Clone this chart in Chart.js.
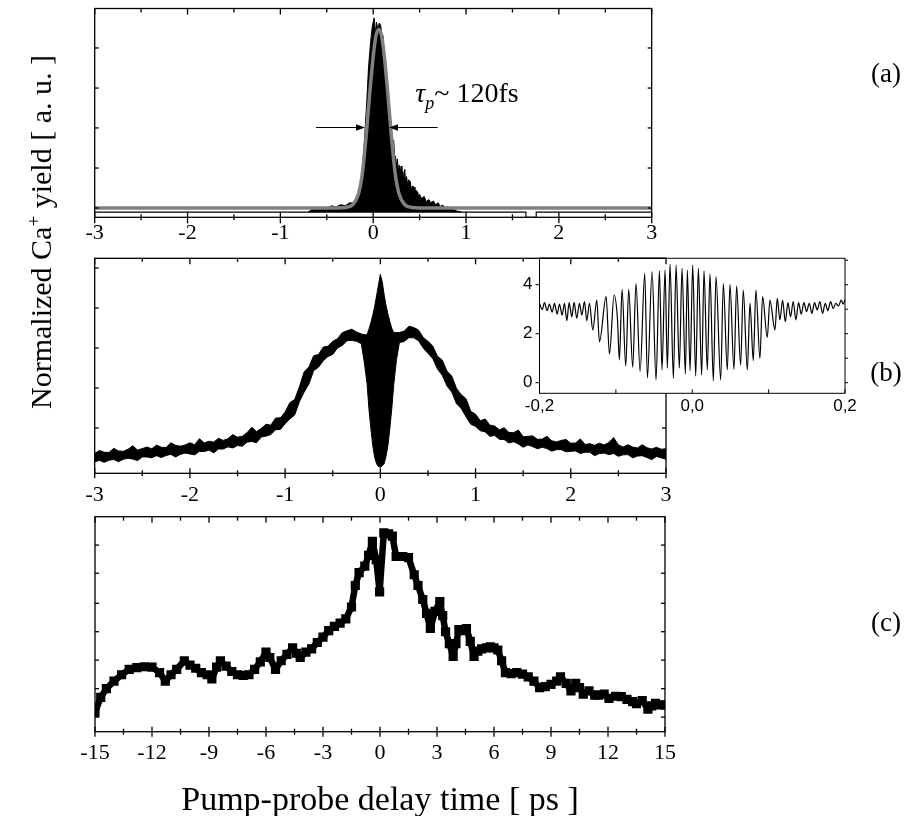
<!DOCTYPE html>
<html>
<head>
<meta charset="utf-8">
<title>Normalized Ca+ yield vs pump-probe delay</title>
<script src="https://cdn.jsdelivr.net/npm/chart.js@4.4.1/dist/chart.umd.min.js"></script>
<style>
  html, body { margin: 0; padding: 0; background: #fff; }
  #fig { position: relative; width: 907px; height: 816px; overflow: hidden; background: #fff; }
  #fig canvas { position: absolute; left: 0; top: 0; }
  .t { position: absolute; font-family: "Liberation Serif", "Times New Roman", serif; color: #000;
       white-space: nowrap; line-height: 1; transform: translate(-50%, -50%); }
  .t sup, .t sub { line-height: 0; }
</style>
</head>
<body>
<div id="fig">
  <canvas id="cA" width="907" height="816"></canvas>
  <canvas id="cB" width="907" height="816"></canvas>
  <canvas id="cC" width="907" height="816"></canvas>
  <canvas id="cI" width="907" height="816"></canvas>
  <div class="t" style="left:886px;top:73px;font-size:27px">(a)</div>
  <div class="t" style="left:886px;top:372px;font-size:27px">(b)</div>
  <div class="t" style="left:886px;top:622px;font-size:27px">(c)</div>
  <div class="t" style="left:467px;top:93px;font-size:28px"><i>τ</i><sub style="font-size:18px"><i>p</i></sub>~ 120fs</div>
  <div class="t" style="left:41px;top:232px;font-size:30px;transform:translate(-50%,-50%) rotate(-90deg)">Normalized Ca<sup style="font-size:19px">+</sup> yield [ a. u. ]</div>
  <div class="t" style="left:380px;top:799px;font-size:34px">Pump-probe delay time [ ps ]</div>
</div>
<script>
// ---------- panel (a): autocorrelation trace with Gaussian fit ----------
const aTicksX = [-3, -2, -1, 0, 1, 2, 3];
const aMinorX = [-2.5, -1.5, -0.5, 0.5, 1.5, 2.5];
const aTickLabels = ['-3', '-2', '-1', '0', '1', '2', '3'];
const aTicksY = [0.0445, 0.236, 0.428, 0.619, 0.811];
const aBaseLevel = 0.025;
const aTraceX = [-0.70,-0.65,-0.60,-0.55,-0.50,-0.45,-0.40,-0.35,-0.30,-0.25,-0.20,
  -0.17,-0.14,-0.12,-0.10,-0.09,-0.07,-0.05,-0.03,-0.01,
  0.01,0.025,0.035,0.05,0.065,0.08,0.095,0.105,
  0.12,0.14,0.16,0.18,
  0.20,0.21,0.22,0.23,0.24,0.25,0.26,0.27,0.28,0.29,
  0.30,0.31,0.32,0.33,0.34,0.35,0.36,0.37,0.38,
  0.40,0.41,0.42,0.44,0.45,0.46,0.48,0.49,0.50,
  0.52,0.55,0.57,0.60,0.62,0.65,0.67,0.70,0.72,0.75,
  0.78,0.80,0.85,0.90,0.95];
const aTraceTop = [0.025,0.040,0.036,0.046,0.042,0.055,0.050,0.060,0.056,0.070,0.066,
  0.085,0.15,0.21,0.33,0.40,0.55,0.72,0.83,0.915,
  0.955,0.88,0.935,0.90,0.93,0.92,0.87,0.84,
  0.72,0.62,0.55,0.47,
  0.40,0.34,0.37,0.30,0.29,0.25,0.28,0.22,0.25,0.20,
  0.245,0.19,0.22,0.17,0.23,0.16,0.195,0.15,0.18,
  0.17,0.13,0.15,0.145,0.11,0.13,0.12,0.095,0.11,
  0.09,0.10,0.075,0.085,0.07,0.078,0.06,0.07,0.052,0.058,
  0.045,0.05,0.04,0.03,0.025];
const aBaseX = [-3, 1.645, 1.646, 1.755, 1.756, 3];
const aBaseY = [0.025, 0.025, 0, 0, 0.025, 0.025];
const aFitX = [-3.0,-0.40,-0.30,-0.22,-0.16,-0.12,-0.08,-0.04,0.00,0.03,0.06,0.09,0.12,0.16,0.20,0.24,0.28,0.34,0.42,0.50,3.0];
const aFitY = [0.045,0.045,0.047,0.06,0.11,0.20,0.37,0.58,0.77,0.87,0.90,0.87,0.77,0.58,0.37,0.20,0.11,0.06,0.047,0.045,0.045];
const aArrowY = 0.43;
const aArrowLeft = [-0.616, -0.088];   // tail, tip
const aArrowRight = [0.694, 0.170];    // tail, tip

// ---------- panel (b): Ca+ yield, -3..3 ps (noise band: lower / upper edge) ----------
const bTicksY = [0.211, 0.397, 0.583, 0.769, 0.955];
const bX = [-3.00,-2.95,-2.90,-2.85,-2.80,-2.75,-2.70,-2.65,-2.60,-2.55,
  -2.50,-2.45,-2.40,-2.35,-2.30,-2.25,-2.20,-2.15,-2.10,-2.05,
  -2.00,-1.95,-1.90,-1.85,-1.80,-1.75,-1.70,-1.65,-1.60,-1.55,
  -1.50,-1.45,-1.40,-1.35,-1.30,-1.25,-1.20,-1.15,-1.10,-1.05,
  -1.00,-0.95,-0.90,-0.85,-0.80,-0.75,-0.70,-0.65,-0.60,-0.55,
  -0.50,-0.45,-0.40,-0.35,-0.30,-0.25,-0.20,
  -0.17,-0.14,-0.12,-0.10,-0.08,-0.06,-0.04,-0.02,0.00,0.02,0.04,0.06,0.08,0.10,0.12,0.14,0.17,
  0.20,0.25,0.30,0.35,0.40,0.45,0.50,0.55,0.60,0.65,
  0.70,0.75,0.80,0.85,0.90,0.95,1.00,1.05,1.10,1.15,
  1.20,1.25,1.30,1.35,1.40,1.45,1.50,1.55,1.60,1.65,
  1.70,1.75,1.80,1.85,1.90,1.95,2.00,2.05,2.10,2.15,
  2.20,2.25,2.30,2.35,2.40,2.45,2.50,2.55,2.60,2.65,
  2.70,2.75,2.80,2.85,2.90,2.95,3.00];
const bLow = [0.054,0.060,0.051,0.061,0.064,0.054,0.065,0.070,0.066,0.059,
  0.076,0.076,0.072,0.082,0.073,0.083,0.088,0.076,0.088,0.094,
  0.090,0.086,0.102,0.101,0.108,0.095,0.113,0.113,0.123,0.118,
  0.129,0.126,0.145,0.148,0.142,0.169,0.173,0.180,0.203,0.204,
  0.231,0.253,0.271,0.333,0.378,0.416,0.478,0.493,0.523,0.543,
  0.553,0.583,0.595,0.617,0.618,0.614,0.603,
  0.52,0.42,0.30,0.21,0.13,0.075,0.045,0.032,0.028,0.035,0.045,0.08,0.13,0.21,0.30,0.41,0.53,
  0.608,0.613,0.631,0.630,0.617,0.583,0.558,0.534,0.485,0.456,
  0.406,0.378,0.323,0.301,0.263,0.228,0.218,0.198,0.193,0.172,
  0.176,0.158,0.157,0.141,0.147,0.136,0.121,0.132,0.124,0.114,
  0.121,0.115,0.103,0.110,0.110,0.100,0.102,0.104,0.092,0.098,
  0.098,0.082,0.092,0.094,0.087,0.092,0.079,0.086,0.087,0.072,
  0.080,0.082,0.073,0.064,0.078,0.072,0.065];
const bHigh = [0.092,0.106,0.098,0.097,0.116,0.104,0.102,0.112,0.128,0.108,
  0.115,0.122,0.114,0.131,0.121,0.120,0.142,0.130,0.126,0.132,
  0.142,0.133,0.161,0.141,0.149,0.145,0.163,0.153,0.161,0.180,
  0.168,0.172,0.189,0.214,0.194,0.209,0.228,0.224,0.257,0.258,
  0.285,0.329,0.343,0.402,0.472,0.495,0.547,0.552,0.587,0.591,
  0.614,0.626,0.654,0.663,0.670,0.657,0.648,
  0.645,0.645,0.67,0.70,0.735,0.775,0.825,0.875,0.925,0.89,0.83,0.78,0.74,0.705,0.675,0.655,0.655,
  0.655,0.661,0.684,0.678,0.667,0.632,0.614,0.592,0.544,0.527,
  0.475,0.452,0.395,0.365,0.347,0.288,0.275,0.244,0.253,0.224,
  0.220,0.202,0.212,0.190,0.189,0.201,0.170,0.172,0.174,0.158,
  0.159,0.172,0.151,0.146,0.153,0.157,0.140,0.141,0.160,0.134,
  0.138,0.130,0.140,0.132,0.143,0.166,0.132,0.122,0.133,0.122,
  0.118,0.133,0.119,0.113,0.121,0.112,0.114];

// ---------- inset of (b): fringes, -0.2..0.2 ps ----------
const iTicksX = [-0.2, -0.1, 0, 0.1, 0.2];
const iLabelX = [-0.2, 0, 0.2];
const iLabelXText = ['-0,2', '0,0', '0,2'];
const iLabelY = [0, 2, 4];
const iTicksYRight = [0, 1, 2, 3, 4, 5];
const iX = [-0.200,-0.1965,-0.1935,-0.190,-0.187,-0.1834,-0.1804,-0.1769,-0.1738,-0.1704,
  -0.1673,-0.1642,-0.1612,-0.1577,-0.1547,-0.1512,-0.1477,-0.1446,-0.1411,-0.1381,
  -0.1346,-0.1302,-0.125,-0.1215,-0.1128,-0.1084,-0.1023,-0.098,-0.0954,-0.0919,
  -0.0871,-0.0832,-0.078,-0.0736,-0.0683,-0.0622,-0.0587,-0.0526,-0.0474,-0.043,
  -0.0396,-0.0356,-0.0326,-0.0291,-0.0247,-0.0212,-0.0169,-0.0134,-0.0090,-0.0064,
  -0.0029,0.0006,0.0045,0.008,0.0123,0.0154,0.0197,0.0232,0.0276,0.0311,
  0.0372,0.0407,0.0459,0.0494,0.0546,0.0581,0.0633,0.0668,0.0721,0.0756,
  0.0799,0.0834,0.0886,0.0921,0.0982,0.1017,0.1083,0.1113,0.1148,0.1183,
  0.1218,0.1253,0.1287,0.1322,0.1357,0.1392,0.1427,0.1462,0.1497,0.1532,
  0.1566,0.1601,0.1636,0.1671,0.1706,0.1741,0.1776,0.1811,0.1846,0.1880,
  0.1915,0.1950,0.1976,0.200];
const iY = [3.24,2.99,3.27,2.94,3.21,2.88,3.24,2.80,3.21,2.76,
  3.24,2.53,3.27,2.69,3.28,2.63,3.24,2.76,3.31,2.53,
  3.24,2.15,3.37,1.67,3.51,1.17,3.58,2.63,0.93,3.81,
  0.68,3.81,0.63,4.05,0.45,4.46,0.20,4.53,0.11,4.57,
  0.52,4.60,0.59,4.84,0.18,4.80,0.59,4.67,0.35,4.60,
  0.49,4.80,0.27,4.67,0.31,4.57,0.52,4.44,0.07,4.33,
  0.11,4.05,0.52,4.01,0.54,3.95,0.72,3.78,0.52,3.24,
  0.90,3.78,0.99,3.51,1.85,3.37,2.15,3.44,2.56,3.37,
  2.49,3.27,2.69,3.31,2.56,3.27,2.80,3.27,2.90,3.24,
  2.83,3.27,2.97,3.31,2.83,3.24,2.94,3.31,3.03,3.24,
  3.13,3.37,3.21,3.40];

// ---------- panel (c): Ca+ yield, -15..15 ps ----------
const cTicksX = [-15, -12, -9, -6, -3, 0, 3, 6, 9, 12, 15];
const cMinorX = [-13.5, -10.5, -7.5, -4.5, -1.5, 1.5, 4.5, 7.5, 10.5, 13.5];
const cTickLabels = ['-15', '-12', '-9', '-6', '-3', '0', '3', '6', '9', '12', '15'];
const cTicksY = [0.068, 0.2, 0.333, 0.465, 0.597, 0.737, 0.868];
const cX = [-15.0,-14.7,-14.4,-14.0,-13.6,-13.2,-12.8,-12.4,-12.0,-11.6,
  -11.3,-11.0,-10.7,-10.3,-10.0,-9.7,-9.4,-9.1,-8.85,-8.6,
  -8.4,-8.1,-7.8,-7.5,-7.2,-6.9,-6.6,-6.3,-6.0,-5.8,
  -5.5,-5.2,-4.9,-4.6,-4.4,-4.2,-3.9,-3.6,-3.3,-3.0,
  -2.7,-2.4,-2.1,-1.8,-1.5,-1.3,-1.1,-0.8,-0.6,-0.4,
  -0.2,-0.02,0.2,0.45,0.65,0.85,1.2,1.5,1.8,2.0,
  2.25,2.45,2.65,2.9,3.15,3.3,3.45,3.65,3.85,4.0,
  4.15,4.35,4.55,4.75,4.95,5.15,5.35,5.6,5.8,6.0,
  6.2,6.4,6.6,6.9,7.2,7.5,7.8,8.1,8.4,8.7,
  9.0,9.3,9.5,9.8,10.05,10.3,10.5,10.7,11.0,11.3,
  11.5,11.8,12.05,12.4,12.7,13.0,13.3,13.5,13.8,14.1,
  14.3,14.5,14.75,15.0];
const cY = [0.09,0.16,0.20,0.235,0.265,0.29,0.298,0.302,0.30,0.275,
  0.235,0.265,0.29,0.33,0.31,0.295,0.275,0.265,0.245,0.30,
  0.33,0.305,0.28,0.265,0.262,0.265,0.29,0.325,0.37,0.345,
  0.29,0.33,0.36,0.39,0.365,0.345,0.37,0.385,0.415,0.44,
  0.47,0.49,0.505,0.525,0.58,0.68,0.74,0.77,0.82,0.885,
  0.80,0.65,0.925,0.92,0.91,0.815,0.815,0.81,0.73,0.68,
  0.615,0.55,0.48,0.56,0.605,0.54,0.465,0.41,0.35,0.41,
  0.475,0.47,0.48,0.42,0.35,0.375,0.385,0.39,0.395,0.39,
  0.38,0.33,0.275,0.27,0.275,0.268,0.255,0.235,0.205,0.21,
  0.22,0.235,0.255,0.225,0.19,0.225,0.205,0.175,0.19,0.17,
  0.17,0.175,0.155,0.165,0.163,0.15,0.14,0.13,0.145,0.105,
  0.12,0.132,0.125,0.124];

// ---------- layout helpers ----------
const W = 907, H = 816;
const SERIF = '"Liberation Serif", "Times New Roman", serif';
const SANS = '"Liberation Sans", Arial, sans-serif';

function pts(xs, ys) { return xs.map((x, i) => ({ x: x, y: ys[i] })); }

function opts(area, xr, yr) {
  return {
    responsive: false, animation: false, devicePixelRatio: 1, events: [],
    layout: { padding: { left: area.l, top: area.t, right: W - area.r, bottom: H - area.b } },
    scales: {
      x: { type: 'linear', min: xr[0], max: xr[1], display: false },
      y: { type: 'linear', min: yr[0], max: yr[1], display: false }
    },
    plugins: { legend: { display: false }, tooltip: { enabled: false } }
  };
}

// Frame, tick marks and tick labels drawn from the chart's own scales.
function framePlugin(cfg) {
  return {
    id: 'frame',
    beforeDatasetsDraw(chart) {
      if (!cfg.bg) return;
      const a = chart.chartArea, ctx = chart.ctx;
      ctx.save(); ctx.fillStyle = cfg.bg;
      ctx.fillRect(a.left, a.top, a.right - a.left, a.bottom - a.top);
      ctx.restore();
    },
    afterDatasetsDraw(chart) {
      const ctx = chart.ctx, a = chart.chartArea, sx = chart.scales.x, sy = chart.scales.y;
      ctx.save();
      ctx.strokeStyle = '#000'; ctx.fillStyle = '#000';
      ctx.lineWidth = cfg.lw;
      ctx.strokeRect(a.left, a.top, a.right - a.left, a.bottom - a.top);
      const seg = (x1, y1, x2, y2) => { ctx.beginPath(); ctx.moveTo(x1, y1); ctx.lineTo(x2, y2); ctx.stroke(); };
      cfg.marks.forEach(m => {
        m.values.forEach(v => {
          if (m.side === 'bottom' || m.side === 'top') {
            const px = sx.getPixelForValue(v);
            const py = m.side === 'bottom' ? a.bottom : a.top;
            const d = m.side === 'bottom' ? 1 : -1;
            seg(px, py - d * m.inLen, px, py + d * m.outLen);
          } else {
            const py = sy.getPixelForValue(v);
            const px = m.side === 'left' ? a.left : a.right;
            const d = m.side === 'left' ? -1 : 1;
            seg(px - d * m.inLen, py, px + d * m.outLen, py);
          }
        });
      });
      cfg.labels.forEach(l => {
        ctx.font = l.font; ctx.textBaseline = 'middle';
        l.values.forEach((v, i) => {
          if (l.side === 'bottom') {
            ctx.textAlign = 'center';
            ctx.fillText(l.texts[i], sx.getPixelForValue(v), a.bottom + l.offset);
          } else {
            ctx.textAlign = 'right';
            ctx.fillText(l.texts[i], a.left - l.offset, sy.getPixelForValue(v));
          }
        });
      });
      ctx.restore();
    }
  };
}

// FWHM arrows of panel (a)
const arrowPlugin = {
  id: 'fwhmArrows',
  afterDatasetsDraw(chart) {
    const ctx = chart.ctx, sx = chart.scales.x, sy = chart.scales.y;
    const y = sy.getPixelForValue(aArrowY);
    ctx.save();
    ctx.strokeStyle = '#000'; ctx.fillStyle = '#000'; ctx.lineWidth = 1.2;
    [aArrowLeft, aArrowRight].forEach(([t0, t1]) => {
      const x0 = sx.getPixelForValue(t0), x1 = sx.getPixelForValue(t1);
      const d = Math.sign(x1 - x0);
      ctx.beginPath(); ctx.moveTo(x0, y); ctx.lineTo(x1 - d * 6, y); ctx.stroke();
      ctx.beginPath(); ctx.moveTo(x1, y); ctx.lineTo(x1 - d * 9, y - 3.2); ctx.lineTo(x1 - d * 9, y + 3.2);
      ctx.closePath(); ctx.fill();
    });
    ctx.restore();
  }
};

const tickFont = '22px ' + SERIF;
const insetFont = '17px ' + SANS;

// ---------- chart (a) ----------
const areaA = { l: 94.7, r: 651.7, t: 8.5, b: 217.3 };
new Chart(document.getElementById('cA'), {
  type: 'line',
  data: { datasets: [
    { data: pts(aFitX, aFitY), borderColor: '#808080', borderWidth: 3.5, pointRadius: 0, fill: false,
      cubicInterpolationMode: 'monotone' },
    { data: pts(aBaseX, aBaseY), borderColor: '#000', borderWidth: 1.2, pointRadius: 0, fill: false, tension: 0 },
    { data: pts(aTraceX, aTraceTop), borderColor: '#000', borderWidth: 1, backgroundColor: '#000',
      fill: { value: aBaseLevel }, pointRadius: 0, tension: 0 }
  ]},
  options: opts(areaA, [-3, 3], [0, 1]),
  plugins: [framePlugin({
    lw: 1.3,
    marks: [
      { side: 'bottom', values: aTicksX, inLen: 5, outLen: 6 },
      { side: 'bottom', values: aMinorX, inLen: 3, outLen: 3 },
      { side: 'top', values: aTicksX, inLen: 6, outLen: 0 },
      { side: 'top', values: aMinorX, inLen: 4, outLen: 0 },
      { side: 'left', values: aTicksY, inLen: 4, outLen: 0 },
      { side: 'right', values: aTicksY, inLen: 4, outLen: 0 }
    ],
    labels: [{ side: 'bottom', values: aTicksX, texts: aTickLabels, font: tickFont, offset: 16 }]
  }), arrowPlugin]
});

// ---------- chart (b) ----------
const areaB = { l: 94.7, r: 666, t: 258.3, b: 473.3 };
const chartB = new Chart(document.getElementById('cB'), {
  type: 'line',
  data: { datasets: [
    { data: pts(bX, bHigh), borderColor: '#000', borderWidth: 1, pointRadius: 0, fill: false, tension: 0 },
    { data: pts(bX, bLow), borderColor: '#000', borderWidth: 1, pointRadius: 0, backgroundColor: '#000',
      fill: '-1', tension: 0 }
  ]},
  options: opts(areaB, [-3, 3], [0, 1]),
  plugins: [framePlugin({
    lw: 1.3,
    marks: [
      { side: 'bottom', values: aTicksX, inLen: 5, outLen: 5 },
      { side: 'bottom', values: aMinorX, inLen: 3, outLen: 3 },
      { side: 'top', values: aTicksX, inLen: 6, outLen: 0 },
      { side: 'top', values: aMinorX, inLen: 3.5, outLen: 0 },
      { side: 'left', values: bTicksY, inLen: 4, outLen: 0 },
      { side: 'right', values: bTicksY, inLen: 4, outLen: 0 }
    ],
    labels: [{ side: 'bottom', values: aTicksX, texts: aTickLabels, font: tickFont, offset: 22 }]
  })]
});

// ---------- chart (c) ----------
const areaC = { l: 95, r: 665, t: 516.7, b: 731.7 };
new Chart(document.getElementById('cC'), {
  type: 'line',
  data: { datasets: [
    { data: pts(cX, cY), borderColor: '#000', borderWidth: 6.5, borderJoinStyle: 'round',
      pointStyle: 'rect', pointRadius: 6.5, pointBackgroundColor: '#000', pointBorderWidth: 0,
      fill: false, tension: 0 }
  ]},
  options: opts(areaC, [-15, 15], [0, 1]),
  plugins: [framePlugin({
    lw: 1.3,
    marks: [
      { side: 'bottom', values: cTicksX, inLen: 5, outLen: 5 },
      { side: 'bottom', values: cMinorX, inLen: 3, outLen: 3 },
      { side: 'top', values: cTicksX, inLen: 6, outLen: 0 },
      { side: 'top', values: cMinorX, inLen: 4, outLen: 0 },
      { side: 'left', values: cTicksY, inLen: 4, outLen: 0 },
      { side: 'right', values: cTicksY, inLen: 4, outLen: 0 }
    ],
    labels: [{ side: 'bottom', values: cTicksX, texts: cTickLabels, font: tickFont, offset: 22 }]
  })]
});

// ---------- inset ----------
const areaI = { l: 539.5, r: 845, t: 258.3, b: 393.3 };
// top ticks of (b) that lie on the inset's upper edge
const bTopOverInset = {
  id: 'bTopOverInset',
  afterDraw(chart) {
    const ctx = chart.ctx, sx = chartB.scales.x, top = chartB.chartArea.top;
    const a = chart.chartArea;
    ctx.save(); ctx.strokeStyle = '#000'; ctx.lineWidth = 1.3;
    const list = aTicksX.map(v => [v, 6]).concat(aMinorX.map(v => [v, 3.5]));
    list.forEach(([v, len]) => {
      const px = sx.getPixelForValue(v);
      if (px > a.left + 1 && px <= chartB.chartArea.right + 0.5) {
        ctx.beginPath(); ctx.moveTo(px, top); ctx.lineTo(px, top + len); ctx.stroke();
      }
    });
    ctx.beginPath(); ctx.moveTo(a.left, top); ctx.lineTo(chartB.chartArea.right, top); ctx.stroke();
    ctx.restore();
  }
};
new Chart(document.getElementById('cI'), {
  type: 'line',
  data: { datasets: [
    { data: pts(iX, iY), borderColor: '#000', borderWidth: 1.2, pointRadius: 0, fill: false,
      cubicInterpolationMode: 'monotone' }
  ]},
  options: opts(areaI, [-0.2, 0.2], [-0.433, 5.078]),
  plugins: [framePlugin({
    lw: 1, bg: '#fff',
    marks: [
      { side: 'bottom', values: iTicksX, inLen: 4, outLen: 0 },
      { side: 'left', values: iLabelY, inLen: 0, outLen: 4 },
      { side: 'right', values: iTicksYRight, inLen: 0, outLen: 3 }
    ],
    labels: [
      { side: 'bottom', values: iLabelX, texts: iLabelXText, font: insetFont, offset: 13 },
      { side: 'left', values: iLabelY, texts: iLabelY.map(String), font: insetFont, offset: 7 }
    ]
  }), bTopOverInset]
});
</script>
</body>
</html>
